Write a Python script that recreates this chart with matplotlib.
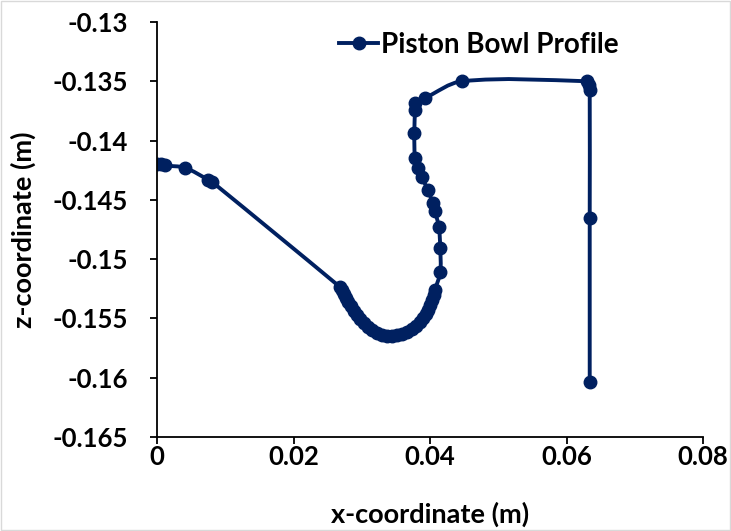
import numpy as np
import matplotlib.pyplot as plt
from matplotlib.patches import Rectangle, PathPatch
from matplotlib.path import Path
from matplotlib.lines import Line2D

# piston bowl profile points (m)
x_coord = [0.0, 0.0006, 0.0012, 0.0041, 0.0075, 0.0081,
           0.02681, 0.02711, 0.02740, 0.02769, 0.02799, 0.02842, 0.02886, 0.02930,
           0.02974, 0.03033, 0.03092, 0.03150, 0.03223, 0.03297, 0.03370,
           0.03443, 0.03516, 0.03590, 0.03663, 0.03736, 0.03795, 0.03853, 0.03897,
           0.03941, 0.03971, 0.04000, 0.04029, 0.04059, 0.04073,
           0.0415, 0.0415, 0.0413, 0.0407, 0.0404, 0.0397, 0.0388, 0.0382,
           0.0378, 0.0377, 0.0378, 0.0378, 0.0393, 0.0447,
           0.0630, 0.0633, 0.0634, 0.0634, 0.0634]
z_coord = [-0.1420, -0.1420, -0.1421, -0.1423, -0.1433, -0.1435,
           -0.15235, -0.15260, -0.15294, -0.15328, -0.15362, -0.15395, -0.15437, -0.15471,
           -0.15505, -0.15539, -0.15572, -0.15598, -0.15623, -0.15640, -0.15648,
           -0.15648, -0.15640, -0.15631, -0.15615, -0.15589, -0.15564, -0.15530, -0.15496,
           -0.15463, -0.15429, -0.15387, -0.15345, -0.15302, -0.15260,
           -0.1511, -0.1491, -0.1473, -0.1459, -0.1453, -0.1442, -0.1431, -0.1423,
           -0.1415, -0.1394, -0.1374, -0.1368, -0.1364, -0.1350,
           -0.1350, -0.1353, -0.1357, -0.1465, -0.1604]

navy = '#002060'
font = ['Lato', 'DejaVu Sans']

fig = plt.figure(figsize=(7.31, 5.31), dpi=100)
ax = fig.add_axes([0.2148, 0.177, 0.7469, 0.7816])
ax.set_xlim(0, 0.08)
ax.set_ylim(-0.165, -0.13)


def smooth_path(xs, ys):
    # smoothed line through the points, bezier handles sized by segment length
    fig.canvas.draw()
    p = ax.transData.transform(np.column_stack([xs, ys]))
    n = len(p)
    verts = [p[0]]
    codes = [Path.MOVETO]
    tang = []
    for i in range(n):
        a = p[i - 1] if i > 0 else p[i]
        b = p[i + 1] if i + 1 < n else p[i]
        d = b - a
        tang.append(d / (np.hypot(*d) + 1e-9))
    for i in range(n - 1):
        seg = np.hypot(*(p[i + 1] - p[i])) / 3
        verts += [p[i] + tang[i] * seg, p[i + 1] - tang[i + 1] * seg, p[i + 1]]
        codes += [Path.CURVE4] * 3
    verts = ax.transData.inverted().transform(np.array(verts))
    return Path(verts, codes)


ax.add_patch(PathPatch(smooth_path(x_coord, z_coord), facecolor='none',
                       edgecolor=navy, linewidth=2.8, capstyle='round', joinstyle='round'))
ax.plot(x_coord, z_coord, linestyle='none', color=navy, marker='o', markersize=9)

ax.set_xticks([0, 0.02, 0.04, 0.06, 0.08])
ax.set_xticklabels(['0', '0.02', '0.04', '0.06', '0.08'])
ax.set_yticks([-0.165, -0.16, -0.155, -0.15, -0.145, -0.14, -0.135, -0.13])
ax.set_yticklabels(['-0.165', '-0.16', '-0.155', '-0.15', '-0.145', '-0.14', '-0.135', '-0.13'])

for s in ['top', 'right']:
    ax.spines[s].set_visible(False)
for s in ['left', 'bottom']:
    ax.spines[s].set_linewidth(1.3)
    ax.spines[s].set_color('black')

ax.tick_params(axis='both', direction='out', length=5, width=1.3)
ax.tick_params(axis='y', pad=16)
ax.tick_params(axis='x', pad=1)
for lbl in ax.get_xticklabels() + ax.get_yticklabels():
    lbl.set_fontweight('bold')
    lbl.set_family(font)
    lbl.set_fontsize(18.5)

ax.set_xlabel('x-coordinate (m)', fontsize=19.5, fontweight='bold', family=font, labelpad=23)
ax.set_ylabel('z-coordinate (m)', fontsize=19.5, fontweight='bold', family=font, labelpad=12)

handle = Line2D([], [], color=navy, linewidth=2.8, marker='o', markersize=9)
ax.legend(handles=[handle], labels=['Piston Bowl Profile'], loc='center',
          bbox_to_anchor=(0.655, 0.915), bbox_transform=fig.transFigure,
          frameon=False, handlelength=1.4, handletextpad=0.1,
          prop={'size': 20, 'weight': 'bold', 'family': font})

# light grey chart border
fig.patches.append(Rectangle((0.002, 0.002), 0.996, 0.996, transform=fig.transFigure,
                             fill=False, edgecolor='#d9d9d9', linewidth=1))

fig.savefig('out.png', dpi=100)
